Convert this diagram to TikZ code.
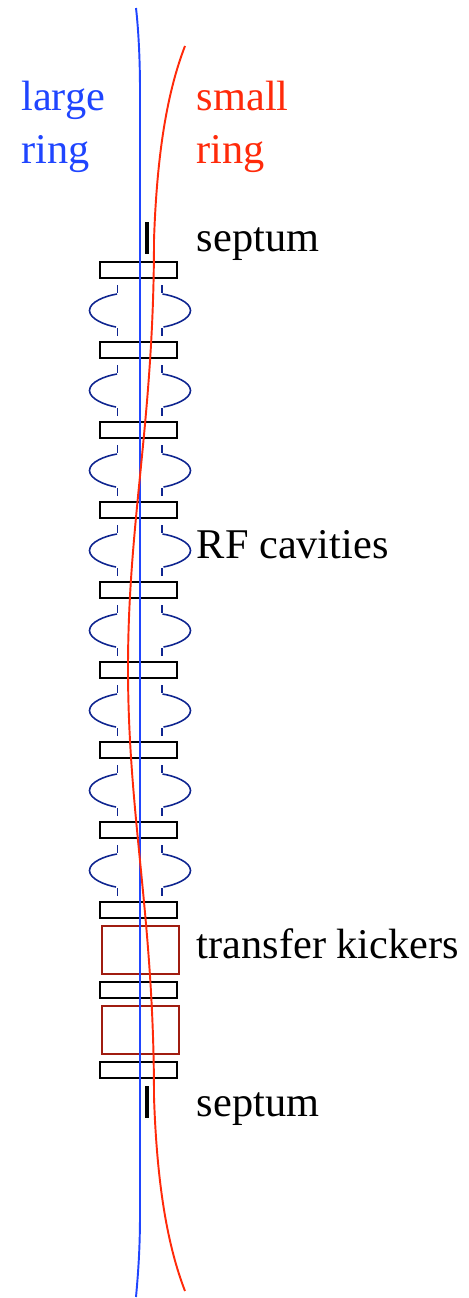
\documentclass[tikz,border=0pt]{standalone}
\usepackage{fontspec}
\setmainfont{Liberation Serif}
\definecolor{Large}{HTML}{1F45FF}
\definecolor{Small}{HTML}{FF2A0A}
\definecolor{Cavity}{HTML}{0F2590}
\definecolor{Kicker}{HTML}{A01C10}
\tikzset{
  label/.style={anchor=base west, inner sep=0pt, font=\fontsize{24.1}{28}\selectfont},
  quad/.style={draw=black, line width=0.8pt},
  kicker/.style={draw=Kicker, line width=0.8pt},
  septum/.style={line width=2.6pt},
  cavity/.style={Cavity, line width=0.9pt},
  orbit/.style={line width=1.1pt}
}
\begin{document}
\begin{tikzpicture}[x=0.02cm, y=-0.02cm]
      \useasboundingbox (0,0) rectangle (468,1298);
      % quadrupoles
      \foreach \y in {270,350,430,510,590,670,750,830,910,990,1070} {
        \draw[quad] (100,\y-8) rectangle (177,\y+8);
      }
      % kickers
      \foreach \y in {950,1030} {
        \draw[kicker] (102,\y-24) rectangle (179,\y+24);
      }
      % septa
      \foreach \y in {238,1102} {
        \draw[septum] (147,\y-16) -- (147,\y+16);
      }
      % RF cavities
      \foreach \y in {310,390,470,550,630,710,790,870} {
        \draw[cavity] (117.5,\y-25) -- (117.5,\y-17.5);
        \draw[cavity] (117.5,\y+18) -- (117.5,\y+26);
        \draw[cavity] (162,\y-25) -- (162,\y-17.5);
        \draw[cavity] (162,\y+18) -- (162,\y+26);
        \draw[cavity] (117,\y-16) .. controls (105,\y-14) and (89.5,\y-8) .. (89.5,\y+0.5) .. controls (89.5,\y+9) and (105,\y+15) .. (116,\y+17);
        \draw[cavity] (162.5,\y-16) .. controls (175,\y-14) and (190.5,\y-8) .. (190.5,\y+0.5) .. controls (190.5,\y+9) and (175,\y+15) .. (163.5,\y+17);
      }
      % orbits
      \draw[Large, orbit] (136,8) .. controls (138.5,30) and (140,60) .. (140,90) -- (140,1215) .. controls (140,1245) and (138.5,1270) .. (136,1297);
      \draw[Small, orbit] (185,46) .. controls (168,90) and (157,150) .. (154,240) .. controls (154,420) and (128,520) .. (128,668) .. controls (128,817) and (154,917) .. (154,1097) .. controls (157,1187) and (168,1247) .. (185,1291);
      % labels
      \node[label, Large] (largetext) at (21,110.5) {large};
      \node[label, Large] (ringlarge) at (21,163.5) {ring};
      \node[label, Small] (smalltext) at (196.5,110.5) {small};
      \node[label, Small] (ringsmall) at (196.5,163.5) {ring};
      \node[label] (septumtop) at (196.5,251.5) {septum};
      \node[label] (rftext) at (196.5,558.5) {RF cavities};
      \node[label] (kickertext) at (196.5,958.5) {transfer kickers};
      \node[label] (septumbot) at (196.5,1116.5) {septum};
    \end{tikzpicture}
\end{document}
